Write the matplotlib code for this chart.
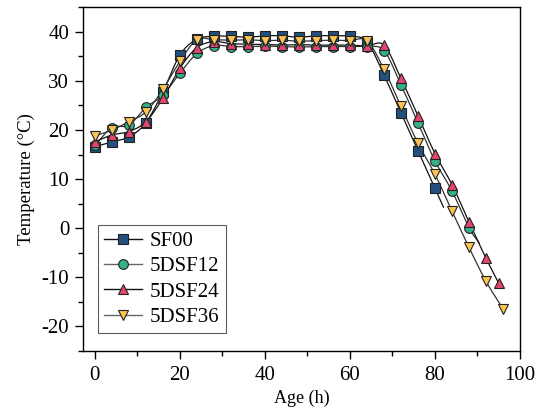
import numpy as np
import matplotlib
matplotlib.use("Agg")
import matplotlib.pyplot as plt
from matplotlib.ticker import MultipleLocator

plt.rcParams['font.family'] = ['Liberation Serif', 'DejaVu Serif']
plt.rcParams['axes.unicode_minus'] = False

# ---- data ----
series_names = ["SF00", "5DSF12", "5DSF24", "5DSF36"]

sf00_h = [0, 4, 8, 12, 16, 20, 24, 28, 32, 36, 40, 44, 48, 52, 56, 60, 64, 68, 72, 76, 80, 82]
sf00_t = [16.6, 17.6, 18.6, 21.5, 27.8, 35.3, 38.5, 39.1, 39.1, 38.9, 39.2, 39.2, 38.9, 39.2, 39.2, 39.1,
          38.0, 31.2, 23.5, 15.8, 8.1, 4.3]
sf00_marked = 21  # markers on first 21 points

d12_h = [0, 4, 8, 12, 16, 20, 24, 28, 32, 36, 40, 44, 48, 52, 56, 60, 64, 68, 72, 76, 80, 84, 88, 90.4]
d12_t = [16.9, 20.5, 21.0, 24.6, 27.1, 31.6, 35.6, 37.2, 37.0, 37.0, 37.1, 37.0, 36.9, 37.0, 37.0, 37.0,
         37.0, 36.2, 29.2, 21.5, 13.7, 7.6, 0.1, -3.0]
d12_marked = 23

d24_h = [0, 4, 8, 12, 16, 20, 24, 28, 32, 36, 40, 44, 48, 52, 56, 60, 64, 68, 72, 76, 80, 84, 88, 92, 95]
d24_t = [17.6, 19.0, 19.7, 21.7, 26.5, 32.6, 36.8, 38.0, 37.6, 37.5, 37.4, 37.3, 37.4, 37.3, 37.3, 37.3,
         37.1, 37.3, 30.5, 22.9, 15.2, 8.9, 1.3, -6.1, -11.2]
d24_marked = 25

d36_h = [0, 4, 8, 12, 16, 20, 24, 28, 32, 36, 40, 44, 48, 52, 56, 60, 64, 68, 72, 76, 80, 84, 88, 92, 96]
d36_t = [18.8, 20.0, 21.7, 23.7, 28.3, 34.0, 38.4, 38.4, 38.3, 38.4, 38.2, 38.3, 38.1, 38.2, 38.3, 38.2,
         38.2, 32.4, 24.8, 17.3, 11.0, 3.5, -3.9, -10.8, -16.4]
d36_marked = 25

colors = ["#254f7c", "#35b088", "#e4456c", "#fbc453"]
markers = ["s", "o", "^", "v"]
line_colors = ["#111111", "#333333", "#111111", "#333333"]


def smooth(x, y, n=12):
    x = np.asarray(x, float)
    y = np.asarray(y, float)
    P = np.column_stack([x, y])
    P = np.vstack([2 * P[0] - P[1], P, 2 * P[-1] - P[-2]])
    out = []
    for i in range(1, len(P) - 2):
        p0, p1, p2, p3 = P[i - 1], P[i], P[i + 1], P[i + 2]
        t = np.linspace(0, 1, n, endpoint=False)[:, None]
        seg = 0.5 * ((2 * p1) + (-p0 + p2) * t + (2 * p0 - 5 * p1 + 4 * p2 - p3) * t ** 2
                     + (-p0 + 3 * p1 - 3 * p2 + p3) * t ** 3)
        out.append(seg)
    out.append(P[-2][None, :])
    S = np.vstack(out)
    return S[:, 0], S[:, 1]


fig = plt.figure(figsize=(5.37, 4.17), dpi=100)
ax = fig.add_axes([0.1546, 0.1583, 0.8137, 0.8242])

all_series = [(sf00_h, sf00_t, sf00_marked), (d12_h, d12_t, d12_marked),
              (d24_h, d24_t, d24_marked), (d36_h, d36_t, d36_marked)]

for i, (h, t, nm) in enumerate(all_series):
    sx, sy = smooth(h, t)
    ax.plot(sx, sy, color=line_colors[i], lw=0.9, zorder=2 + i * 0.01)
    ax.plot(h[:nm], t[:nm], linestyle='none', marker=markers[i], markersize=7 if i != 0 else 6.5,
            markerfacecolor=colors[i], markeredgecolor='#222222', markeredgewidth=0.8,
            zorder=3 + i * 0.01)

# legend handles
handles = []
for i in range(4):
    hdl, = ax.plot([], [], color=line_colors[i] if i in (0, 2) else '#666666', lw=1.0,
                   marker=markers[i], markersize=7 if i != 0 else 6.5,
                   markerfacecolor=colors[i], markeredgecolor='#222222', markeredgewidth=0.8)
    handles.append(hdl)
leg = ax.legend(handles, series_names, loc='lower left', bbox_to_anchor=(0.034, 0.052),
                frameon=True, fancybox=False, edgecolor='#333333', fontsize=15,
                handlelength=1.8, handletextpad=0.4, labelspacing=0.27, borderpad=0.3,
                borderaxespad=0.0)
leg.get_frame().set_linewidth(0.8)

ax.set_xlim(-2.8, 100)
ax.set_ylim(-25, 45)
ax.xaxis.set_major_locator(MultipleLocator(20))
ax.xaxis.set_minor_locator(MultipleLocator(10))
ax.yaxis.set_major_locator(MultipleLocator(10))
ax.yaxis.set_minor_locator(MultipleLocator(5))
ax.tick_params(which='major', direction='out', length=6, width=1.0, labelsize=15,
               top=False, right=False)
ax.tick_params(axis='x', which='major', pad=5)
ax.tick_params(axis='y', which='major', pad=4)
ax.tick_params(which='minor', direction='out', length=3.5, width=1.0, top=False, right=False)
for s in ax.spines.values():
    s.set_linewidth(1.0)

ax.set_xlabel("Age (h)", fontsize=13, labelpad=3)
ax.set_ylabel("Temperature (°C)", fontsize=13.5, labelpad=5)

fig.savefig("out.png", dpi=100)
